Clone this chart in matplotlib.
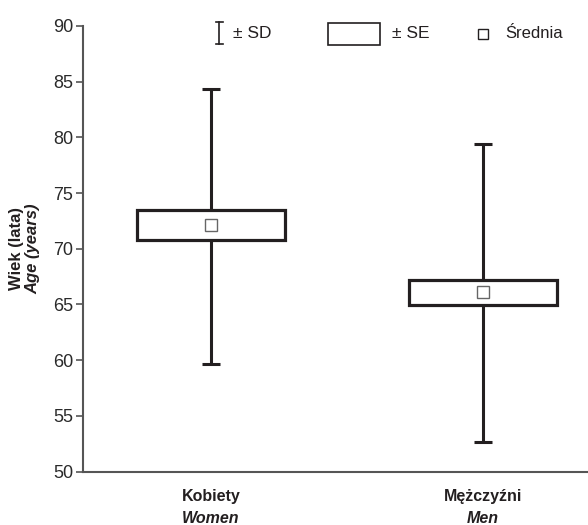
import matplotlib
matplotlib.use("Agg")
import matplotlib.pyplot as plt
from matplotlib.lines import Line2D
from matplotlib.patches import Rectangle

plt.rcParams['font.family'] = ['Liberation Sans', 'DejaVu Sans']

# values (age in years)
groups_pl = ["Kobiety", "Mężczyźni"]
groups_en = ["Women", "Men"]
mean = [72.17, 66.08]
se_low = [70.78, 64.92]
se_high = [73.52, 67.22]
sd_low = [59.67, 52.65]
sd_high = [84.33, 79.40]

dark = "#231f20"
axis_col = "#555555"

fig = plt.figure(figsize=(5.88, 5.25), dpi=100)
ax = fig.add_axes([0.1406, 0.1019, 0.8594, 0.8486])

x = list(range(len(mean)))

# SD whiskers
yerr = [[m - lo for m, lo in zip(mean, sd_low)], [hi - m for m, hi in zip(mean, sd_high)]]
ax.errorbar(x, mean, yerr=yerr, fmt='none', ecolor=dark, elinewidth=2.2,
            capsize=6.2, capthick=2.2, zorder=2)

# SE boxes
heights = [hi - lo for lo, hi in zip(se_low, se_high)]
ax.bar(x, heights, bottom=se_low, width=0.544, color='white', edgecolor=dark,
       linewidth=2.3, zorder=3)

# means
ax.plot(x, mean, 's', mfc='white', mec='#666666', mew=1.0, ms=8.5, zorder=4)

ax.set_xlim(-0.472, 1.386)
ax.set_ylim(50, 90)
ax.set_yticks(range(50, 91, 5))
ax.set_xticks([])
ax.tick_params(axis='y', direction='out', length=5, width=1.2, color=axis_col,
               labelsize=13, labelcolor='#2a2a2a', pad=2)
for s in ['top', 'right']:
    ax.spines[s].set_visible(False)
for s in ['left', 'bottom']:
    ax.spines[s].set_color(axis_col)
    ax.spines[s].set_linewidth(1.5)

# category labels
for i in x:
    ax.annotate(groups_pl[i], xy=(i, 0), xycoords=('data', 'axes fraction'),
                xytext=(0, -18), textcoords='offset points', ha='center', va='center',
                fontsize=11.5, fontweight='bold', color=dark)
    ax.annotate(groups_en[i], xy=(i, 0), xycoords=('data', 'axes fraction'),
                xytext=(0, -33.5), textcoords='offset points', ha='center', va='center',
                fontsize=11.5, fontweight='bold', style='italic', color=dark)

# y label
fig.text(17 / 588, 1 - 249 / 525, "Wiek (lata)", rotation=90, ha='center', va='center',
         fontsize=12, fontweight='bold', color=dark)
fig.text(33 / 588, 1 - 249 / 525, "Age (years)", rotation=90, ha='center', va='center',
         fontsize=12, fontweight='bold', style='italic', color=dark)

# legend (drawn by hand in figure pixels)
W, H = 588, 525
def fx(px):
    return px / W
def fy(py):
    return 1 - py / H

fig.add_artist(Line2D([fx(219), fx(219)], [fy(22), fy(44)], color=dark, lw=1.2))
fig.add_artist(Line2D([fx(215.5), fx(222.5)], [fy(22), fy(22)], color=dark, lw=1.2))
fig.add_artist(Line2D([fx(215.5), fx(222.5)], [fy(44), fy(44)], color=dark, lw=1.2))
fig.text(fx(233), fy(34), "± SD", ha='left', va='center', fontsize=12.5, color=dark)

fig.add_artist(Rectangle((fx(327.7), fy(45)), fx(380) - fx(327.7), fy(23.3) - fy(45),
                         transform=fig.transFigure, facecolor='white', edgecolor=dark, lw=1.2))
fig.text(fx(392), fy(34), "± SE", ha='left', va='center', fontsize=12.5, color=dark)

fig.add_artist(Line2D([fx(482.7)], [fy(34)], marker='s', ms=7.5, mfc='white', mec=dark, mew=1.0))
fig.text(fx(505), fy(34), "Średnia", ha='left', va='center', fontsize=12, color=dark)

fig.savefig("out.png", dpi=100)
